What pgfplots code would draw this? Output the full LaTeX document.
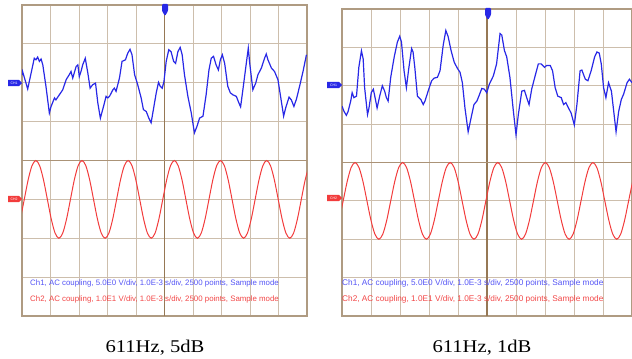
\documentclass[border=0pt]{standalone}
\usepackage{pgfplots}
\pgfplotsset{compat=1.18}
\usepackage{graphicx}
\usepackage{fontspec}
\setmainfont{Liberation Serif}
\newfontfamily\arial{Liberation Sans}
\definecolor{gridc}{RGB}{205,190,172}
\definecolor{framec}{RGB}{175,155,130}
\definecolor{centc}{RGB}{150,120,85}
\definecolor{trblue}{RGB}{40,40,230}
\definecolor{trred}{RGB}{242,60,60}
\definecolor{txblue}{RGB}{85,85,245}
\definecolor{txred}{RGB}{242,70,70}
\pgfplotsset{
  scope/.style={scale only axis, xmin=0, xmax=10, ymin=-4, ymax=4,
    xtick={0,...,10}, ytick={-4,...,4}, xticklabels={}, yticklabels={},
    major tick length=0pt, grid=major,
    major grid style={gridc, line width=0.9bp},
    axis line style={framec, line width=1.6bp},
    anchor=south west},
}
\begin{document}
\begin{tikzpicture}[x=1bp,y=1bp]
\useasboundingbox (0,0) rectangle (632,358);
% ---------- left panel ----------
\begin{axis}[scope, at={(22bp,42bp)}, width=285bp, height=311bp]
\draw[centc, line width=1bp] (axis cs:5,-4) -- (axis cs:5,4);
\draw[centc!80, line width=1bp] (axis cs:0,0) -- (axis cs:10,0);
\addplot[trblue, line width=1.2bp] coordinates {
(0.00,2.20) (0.02,2.29) (0.20,1.84) (0.37,2.42) (0.43,2.63) (0.49,2.59) (0.55,2.66) (0.61,2.55) (0.67,2.61) (0.73,2.46)
(0.84,1.91) (0.96,1.22) (1.02,1.39) (1.14,1.61) (1.19,1.56) (1.31,1.69) (1.43,1.82) (1.55,2.08) (1.66,2.21) (1.72,2.29)
(1.78,2.12) (1.90,2.42) (1.96,2.46) (2.01,2.16) (2.07,2.29) (2.13,2.46) (2.22,2.63) (2.31,2.25) (2.39,1.86) (2.48,1.95)
(2.58,1.99) (2.66,1.48) (2.75,1.09) (2.86,1.39) (2.95,1.65) (3.01,1.61) (3.07,1.65) (3.19,1.82) (3.24,1.86) (3.30,1.78)
(3.42,2.12) (3.51,2.55) (3.63,2.59) (3.71,2.76) (3.79,2.86) (3.86,2.72) (3.95,2.21) (4.06,1.95) (4.18,1.61) (4.26,1.31)
(4.36,1.26) (4.45,1.09) (4.53,0.97) (4.61,1.31) (4.71,1.74) (4.79,2.01) (4.85,1.91) (4.92,1.86) (4.98,2.03) (5.06,2.55)
(5.15,2.85) (5.23,2.80) (5.32,2.55) (5.39,2.50) (5.47,2.80) (5.55,2.91) (5.62,2.72) (5.70,2.21) (5.82,1.65) (5.94,1.22)
(6.05,0.71) (6.14,0.88) (6.23,1.09) (6.35,1.14) (6.46,1.69) (6.56,2.33) (6.64,2.63) (6.72,2.68) (6.81,2.46) (6.89,2.33)
(6.96,2.59) (7.03,2.72) (7.11,2.50) (7.22,1.91) (7.31,1.74) (7.40,1.69) (7.52,1.65) (7.61,1.48) (7.67,1.38) (7.75,1.82)
(7.87,2.50) (7.94,2.89) (7.99,2.50) (8.10,1.82) (8.20,1.99) (8.28,2.21) (8.40,2.38) (8.51,2.63) (8.57,2.74) (8.63,2.59)
(8.75,2.38) (8.86,2.29) (8.98,2.08) (9.10,1.52) (9.18,1.14) (9.25,1.35) (9.37,1.63) (9.45,1.56) (9.54,1.39) (9.63,1.58)
(9.74,1.91) (9.86,2.29) (9.98,2.72)
};
\addplot[trred, line width=1bp, smooth] coordinates {
(-0.055,-1.5) (0.08,-1) (0.215,-0.5) (0.35,-0.134) (0.485,0) (0.62,-0.134) (0.755,-0.5) (0.89,-1) (1.025,-1.5) (1.16,-1.866) (1.295,-2) (1.43,-1.866) (1.565,-1.5)
(1.70,-1) (1.835,-0.5) (1.97,-0.134) (2.105,0) (2.24,-0.134) (2.375,-0.5) (2.51,-1) (2.645,-1.5) (2.78,-1.866) (2.915,-2) (3.05,-1.866) (3.185,-1.5)
(3.32,-1) (3.455,-0.5) (3.59,-0.134) (3.725,0) (3.86,-0.134) (3.995,-0.5) (4.13,-1) (4.265,-1.5) (4.40,-1.866) (4.535,-2) (4.67,-1.866) (4.805,-1.5)
(4.94,-1) (5.075,-0.5) (5.21,-0.134) (5.345,0) (5.48,-0.134) (5.615,-0.5) (5.75,-1) (5.885,-1.5) (6.02,-1.866) (6.155,-2) (6.29,-1.866) (6.425,-1.5)
(6.56,-1) (6.695,-0.5) (6.83,-0.134) (6.965,0) (7.10,-0.134) (7.235,-0.5) (7.37,-1) (7.505,-1.5) (7.64,-1.866) (7.775,-2) (7.91,-1.866) (8.045,-1.5)
(8.18,-1) (8.315,-0.5) (8.45,-0.134) (8.585,0) (8.72,-0.134) (8.855,-0.5) (8.99,-1) (9.125,-1.5) (9.26,-1.866) (9.395,-2) (9.53,-1.866) (9.665,-1.5)
(9.80,-1) (9.935,-0.5) (10.07,-0.134)
};
\end{axis}
% ---------- right panel ----------
\begin{axis}[scope, at={(342bp,42bp)}, width=290bp, height=307bp]
\draw[centc, line width=1.1bp] (axis cs:5,-4) -- (axis cs:5,4);
\draw[centc!80, line width=1bp] (axis cs:0,0) -- (axis cs:10,0);
\addplot[trblue, line width=1.2bp] coordinates {
(0.00,1.47) (0.07,1.33) (0.15,1.23) (0.21,1.33) (0.30,1.60) (0.35,1.82) (0.41,1.69) (0.50,1.73) (0.58,2.48) (0.67,2.91)
(0.73,2.70) (0.78,1.95) (0.88,1.25) (0.93,1.42) (1.01,1.82) (1.08,1.91) (1.13,1.73) (1.21,1.42) (1.30,1.73) (1.39,2.00)
(1.47,1.86) (1.53,1.69) (1.59,1.60) (1.68,2.22) (1.80,2.75) (1.91,3.14) (1.99,3.29) (2.05,3.14) (2.14,2.39) (2.22,1.95)
(2.30,2.44) (2.40,2.97) (2.45,2.88) (2.51,2.48) (2.60,1.73) (2.72,1.64) (2.80,1.51) (2.86,1.60) (2.97,1.86) (3.09,2.13)
(3.18,2.20) (3.29,2.22) (3.38,2.39) (3.49,3.06) (3.58,3.44) (3.66,3.28) (3.76,2.92) (3.87,2.61) (3.99,2.44) (4.07,2.35)
(4.15,2.08) (4.24,1.42) (4.35,0.80) (4.45,1.16) (4.55,1.51) (4.65,1.60) (4.72,1.73) (4.82,1.93) (4.91,1.91) (4.99,1.82)
(5.08,2.04) (5.22,2.26) (5.33,2.57) (5.45,3.36) (5.51,3.32) (5.60,2.92) (5.68,2.75) (5.79,2.22) (5.91,1.33) (6.00,0.72)
(6.08,1.25) (6.20,1.86) (6.29,1.88) (6.39,1.64) (6.45,1.51) (6.54,1.91) (6.66,2.26) (6.77,2.57) (6.87,2.57) (6.98,2.48)
(7.06,2.53) (7.18,2.53) (7.26,2.39) (7.35,1.95) (7.44,1.73) (7.56,1.69) (7.64,1.51) (7.72,1.56) (7.81,1.42) (7.90,1.29)
(8.01,0.98) (8.10,1.51) (8.21,2.39) (8.27,2.41) (8.39,2.17) (8.48,2.13) (8.59,2.39) (8.71,2.75) (8.79,2.88) (8.87,2.85)
(8.94,2.57) (9.02,1.95) (9.10,1.69) (9.19,2.08) (9.29,1.86) (9.37,1.33) (9.45,0.80) (9.54,1.33) (9.63,1.64) (9.71,1.78)
(9.83,2.08) (9.91,2.17) (10.00,2.08)
};
\addplot[trred, line width=1bp, smooth] coordinates {
(-0.097,-1.5) (0.04,-1) (0.177,-0.5) (0.313,-0.134) (0.450,0) (0.587,-0.134) (0.724,-0.5) (0.860,-1) (0.997,-1.5) (1.134,-1.866) (1.270,-2) (1.407,-1.866) (1.544,-1.5)
(1.680,-1) (1.817,-0.5) (1.954,-0.134) (2.091,0) (2.227,-0.134) (2.364,-0.5) (2.501,-1) (2.637,-1.5) (2.774,-1.866) (2.911,-2) (3.047,-1.866) (3.184,-1.5)
(3.321,-1) (3.458,-0.5) (3.594,-0.134) (3.731,0) (3.868,-0.134) (4.004,-0.5) (4.141,-1) (4.278,-1.5) (4.414,-1.866) (4.551,-2) (4.688,-1.866) (4.825,-1.5)
(4.961,-1) (5.098,-0.5) (5.235,-0.134) (5.371,0) (5.508,-0.134) (5.645,-0.5) (5.781,-1) (5.918,-1.5) (6.055,-1.866) (6.192,-2) (6.328,-1.866) (6.465,-1.5)
(6.602,-1) (6.738,-0.5) (6.875,-0.134) (7.012,0) (7.148,-0.134) (7.285,-0.5) (7.422,-1) (7.559,-1.5) (7.695,-1.866) (7.832,-2) (7.969,-1.866) (8.105,-1.5)
(8.242,-1) (8.379,-0.5) (8.515,-0.134) (8.652,0) (8.789,-0.134) (8.926,-0.5) (9.062,-1) (9.199,-1.5) (9.336,-1.866) (9.473,-2) (9.609,-1.866) (9.746,-1.5)
(9.883,-1) (10.020,-0.5)
};
\end{axis}
% ---------- channel / trigger tags ----------
\newcommand\chtag[4]{% x-left, x-tip, y, colour
  \fill[#4] (#1,#3-3.2) -- (#2-3,#3-3.2) -- (#2,#3) -- (#2-3,#3+3.2) -- (#1,#3+3.2) -- cycle;}
\chtag{8}{22}{275}{trblue}
\chtag{8}{22}{159}{trred}
\chtag{327}{342}{273}{trblue}
\chtag{327}{342}{160}{trred}
\node[white, font=\arial\fontsize{3.5}{4}\selectfont, inner sep=0] at (14,275) {CH1};
\node[white, font=\arial\fontsize{3.5}{4}\selectfont, inner sep=0] at (14,159) {CH2};
\node[white, font=\arial\fontsize{3.5}{4}\selectfont, inner sep=0] at (333.5,273) {CH1};
\node[white, font=\arial\fontsize{3.5}{4}\selectfont, inner sep=0] at (333.5,160) {CH2};
\fill[trblue, rounded corners=1bp] (162,354) -- (168,354) -- (168,347) -- (165,342) -- (162,347) -- cycle;
\fill[trblue, rounded corners=1bp] (485,350) -- (491,350) -- (491,343) -- (488,338) -- (485,343) -- cycle;
% ---------- status text ----------
\node[anchor=west, inner sep=0, text=txblue, font=\arial\fontsize{7.9}{8}\selectfont] at (30,75) {Ch1, AC coupling, 5.0E0 V/div, 1.0E-3 s/div, 2500 points, Sample mode};
\node[anchor=west, inner sep=0, text=txred, font=\arial\fontsize{7.9}{8}\selectfont] at (30,59) {Ch2, AC coupling, 1.0E1 V/div, 1.0E-3 s/div, 2500 points, Sample mode};
\node[anchor=west, inner sep=0, text=txblue, font=\arial\fontsize{8.3}{9}\selectfont] at (342,75) {Ch1, AC coupling, 5.0E0 V/div, 1.0E-3 s/div, 2500 points, Sample mode};
\node[anchor=west, inner sep=0, text=txred, font=\arial\fontsize{8.3}{9}\selectfont] at (342,59) {Ch2, AC coupling, 1.0E1 V/div, 1.0E-3 s/div, 2500 points, Sample mode};
% ---------- captions ----------
\node[anchor=base, inner sep=0, font=\fontsize{18}{20}\selectfont] at (155,6) {\scalebox{1.15}[1]{611Hz, 5dB}};
\node[anchor=base, inner sep=0, font=\fontsize{18}{20}\selectfont] at (482,6) {\scalebox{1.15}[1]{611Hz, 1dB}};
\end{tikzpicture}
\end{document}
